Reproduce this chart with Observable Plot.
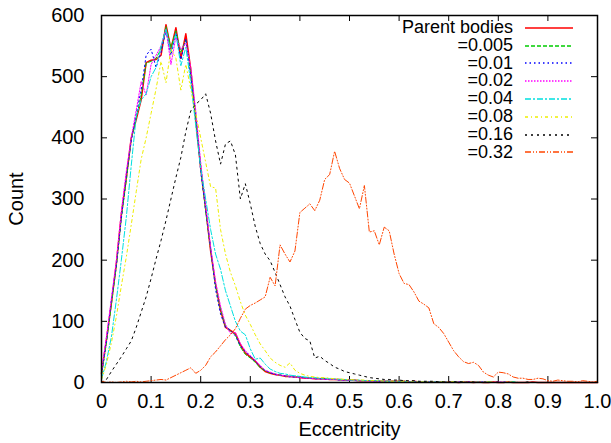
<!DOCTYPE html>
<html><head><meta charset="utf-8">
<script src="https://cdn.jsdelivr.net/npm/d3@7"></script>
<script src="https://cdn.jsdelivr.net/npm/@observablehq/plot@0.6"></script>
<style>
body{margin:0;background:#fff;}
#wrap{position:relative;width:611px;height:443px;font-family:"Liberation Sans",Arial,sans-serif;}
#legend{position:absolute;left:393px;top:19px;}
.row{display:flex;align-items:center;height:17.8px;}
.lab{display:block;width:120px;height:17.8px;overflow:visible;text-align:right;font-size:18px;line-height:17.8px;color:#000;}
.row svg{margin-left:12px;}
</style></head><body><div id="wrap"></div><script>
// bins of eccentricity (step 0.01)
const ecc = d3.range(0, 101).map(i => i / 100);

const parent = [15,70,130,195,275,335,400,430,462,523, 527,528,535,585,545,580,530,570,512,430, 350,285,215,160,118,90,85,80,62,48, 42,35,25,18,15,13,12,10,10,9, 8,7,7,6,6,6,5,5,5,4, 4,4,3,3,3,3,2,2,2,2, 2,2,1,2,1,1,1,1,1,1, 1,1,0,1,1,0,1,0,0,1, 0,0,1,0,0,0,0,1,0,0, 0,0,0,0,0,0,0,0,0,0, 0];
const s0005 = [12,65,128,190,270,330,398,432,470,522, 525,530,545,582,548,575,540,560,505,432, 352,280,218,158,120,92,84,78,58,46, 40,33,24,19,16,14,12,11,10,9, 9,8,7,7,6,6,5,5,4,4, 4,3,3,3,3,2,2,2,2,2, 1,2,1,1,1,1,1,0,1,1, 0,1,1,0,0,1,0,0,1,0, 0,0,0,1,0,0,0,0,0,0, 0,0,0,0,0,0,0,0,0,0, 0];
const s001 = [14,68,135,192,268,338,395,440,478,535, 545,515,540,575,535,572,528,562,500,440, 345,282,220,152,112,90,86,76,60,50, 43,34,26,20,16,13,12,11,9,9, 8,8,7,6,6,5,5,5,4,4, 4,3,3,3,3,2,2,2,2,1, 2,1,1,1,1,1,1,1,0,1, 1,0,1,0,1,0,0,1,0,0, 0,1,0,0,0,0,0,0,0,0, 0,0,0,0,0,0,0,0,0,0, 0];
const s002 = [18,75,138,200,280,345,400,445,492,470, 520,535,550,578,520,565,545,555,515,445, 360,290,222,165,125,95,80,82,64,52, 44,36,28,20,17,14,12,11,10,9, 8,7,7,6,6,5,5,5,4,4, 4,3,3,3,2,2,2,2,2,2, 1,1,1,1,1,1,1,1,1,0, 1,0,1,0,0,1,0,0,0,0, 1,0,0,0,0,0,0,0,0,0, 0,0,0,0,0,0,0,0,0,0, 0];
const s004 = [5,35,75,135,200,270,355,435,462,472, 500,515,550,578,540,570,518,548,490,420, 350,300,250,210,185,150,125,100,84,78, 55,38,40,30,22,18,15,14,12,11, 10,9,8,8,7,7,6,6,5,5, 4,4,4,3,3,3,3,2,2,2, 2,2,1,1,1,1,1,1,1,1, 0,1,0,1,0,0,1,0,0,0, 0,0,0,1,0,0,0,0,0,0, 0,0,0,0,0,0,0,0,0,0, 0];
const s008 = [5,30,65,108,158,205,258,312,365,400, 440,480,525,490,545,530,478,520,480,440, 400,360,320,318,250,210,180,158,132,110, 95,78,63,52,40,33,28,25,32,20, 15,12,10,9,8,8,7,6,6,5, 5,4,4,4,3,3,3,2,2,2, 2,2,1,1,1,1,1,1,1,1, 1,1,0,1,0,1,0,0,1,0, 0,0,1,0,0,0,0,0,0,0, 0,0,0,0,0,0,0,0,0,0, 0];
const s016 = [0,5,18,30,42,55,68,90,115,140, 170,202,232,265,300,335,368,410,444,455, 462,472,440,395,357,390,395,372,300,325, 292,255,227,210,199,180,160,140,125,103, 82,72,68,40,43,36,31,25,22,18, 16,14,12,10,8,7,6,5,5,4, 4,3,3,3,2,2,2,2,1,1, 1,1,1,1,0,1,0,1,0,0, 1,0,0,0,0,0,1,0,0,0, 0,0,0,0,0,0,0,0,0,0, 0];
const s032 = [2,0,1,0,1,2,1,2,1,2, 3,4,5,4,8,12,16,20,24,15, 20,28,42,50,60,70,78,88,105,120, 126,130,135,140,172,158,225,210,197,215, 278,285,292,281,298,332,340,378,350,332, 326,305,284,322,246,248,225,254,248,210, 178,162,160,148,133,128,122,96,90,80, 66,52,42,34,31,33,28,17,12,9, 17,16,14,9,7,7,5,5,7,6, 3,2,4,3,2,2,1,3,2,1, 2];

const seriesNames = ["Parent bodies","=0.005","=0.01","=0.02","=0.04","=0.08","=0.16","=0.32"];
const seriesValues = [parent, s0005, s001, s002, s004, s008, s016, s032];

const xTicks = [0,0.1,0.2,0.3,0.4,0.5,0.6,0.7,0.8,0.9,1.0];
const xTickLabels = ["0","0.1","0.2","0.3","0.4","0.5","0.6","0.7","0.8","0.9","1.0"];
const yTicks = [0,100,200,300,400,500,600];

// styles (kept separate from data)
const colors = ["#ff0000","#00cc00","#0000ff","#ff00ff","#00e0e0","#eeee00","#000000","#ff4500"];
const dashes = [null,"4,2","1.5,3","1.5,1.5","6,2,2,2","3,3,1,3","2,4","6,2,1,2,1,2"];
const widths = [1.5,1,1,1,1,1,1,1];

const W = 611, H = 443, mL = 101, mR = 14, mT = 15, mB = 61;
const plotW = W - mL - mR, plotH = H - mT - mB;

const lines = seriesValues.map((vals, k) => Plot.line(
  vals.map((v, i) => ({e: ecc[i], v})),
  {x: "e", y: "v", stroke: colors[k], strokeWidth: widths[k], strokeDasharray: dashes[k]}
));

const chart = Plot.plot({
  width: W, height: H, marginLeft: mL, marginRight: mR, marginTop: mT, marginBottom: mB,
  style: {fontFamily: "Liberation Sans, Arial, sans-serif", fontSize: "20px", color: "#000", background: "#fff"},
  x: {domain: [0, 1]},
  y: {domain: [0, 600]},
  marks: [
    Plot.tickX(xTicks, {x: d => d, insetTop: plotH - 6, stroke: "#000"}),
    Plot.tickX(xTicks, {x: d => d, insetBottom: plotH - 6, stroke: "#000"}),
    Plot.tickY(yTicks, {y: d => d, insetRight: plotW - 6, stroke: "#000"}),
    Plot.tickY(yTicks, {y: d => d, insetLeft: plotW - 6, stroke: "#000"}),
    ...lines,
    Plot.frame({stroke: "#000", strokeWidth: 1.5}),
    Plot.axisX(xTicks, {tickSize: 0, tickPadding: 11, tickFormat: d => xTickLabels[xTicks.indexOf(d)],
      label: "Eccentricity", labelAnchor: "center", labelArrow: "none", labelOffset: 53}),
    Plot.axisY(yTicks, {tickSize: 0, tickPadding: 17, tickFormat: d => String(d),
      label: "Count", labelAnchor: "center", labelArrow: "none", labelOffset: 93})
  ]
});

const wrap = document.getElementById("wrap");
wrap.appendChild(chart);

// legend inside plot area (top-right)
const leg = document.createElement("div");
leg.id = "legend";
seriesNames.forEach((name, k) => {
  const row = document.createElement("div");
  row.className = "row";
  const lab = document.createElement("span");
  lab.className = "lab";
  lab.textContent = name;
  row.appendChild(lab);
  const svg = d3.create("svg").attr("width", 48).attr("height", 6);
  svg.append("line").attr("x1", 0).attr("x2", 48).attr("y1", 3).attr("y2", 3)
    .attr("stroke", colors[k]).attr("stroke-width", k === 0 ? 1.5 : 1.3)
    .attr("stroke-dasharray", dashes[k]);
  row.appendChild(svg.node());
  leg.appendChild(row);
});
wrap.appendChild(leg);
</script></body></html>
